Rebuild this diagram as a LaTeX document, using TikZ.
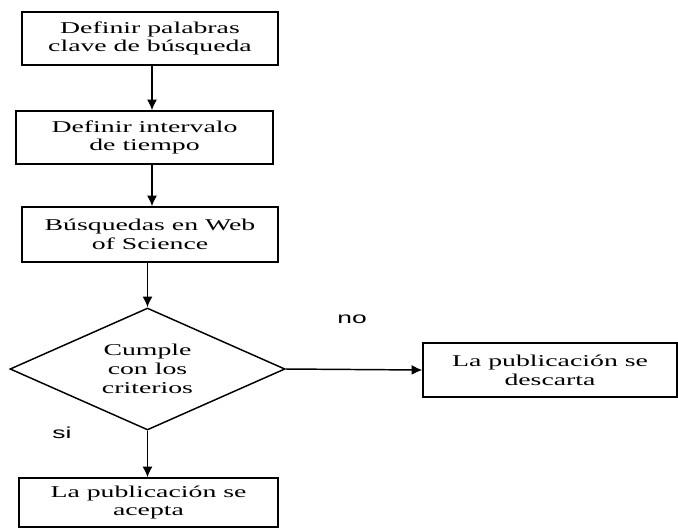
\documentclass[tikz,border=0pt]{standalone}
\usepackage{fontspec}
\setmainfont{Liberation Serif}[FakeStretch=1.68]
\newfontfamily\etiqfont{Liberation Sans}[FakeStretch=1.65]
\usetikzlibrary{shapes.geometric,arrows.meta}

\begin{document}
\begin{tikzpicture}[x=0.75pt, y=-0.75pt, >={Latex[length=8pt,width=7.5pt]}, line width=1.1pt,
        caja/.style={rectangle, black, draw, align=center, inner sep=0pt, font=\fontsize{12.4}{14}\selectfont, minimum width=192pt, minimum height=39.75pt},
        rombo/.style={diamond, black, draw, align=center, inner sep=0pt, aspect=2.25, font=\fontsize{12.4}{14.5}\selectfont, minimum width=206.25pt, minimum height=91.5pt},
        etiq/.style={black, font=\etiqfont\fontsize{12}{14}\selectfont}]
        \useasboundingbox (0,0) rectangle (678,529);

        \draw (150, 38.5) node(def)[caja]{Definir palabras\\clave de búsqueda};
        \draw (144.5, 137.5) node(inter)[caja, minimum width=192.75pt]{Definir intervalo\\de tiempo};
        \draw (150, 234.5) node(wos)[caja, minimum height=41.25pt]{Búsquedas en Web\\of Science};
        \draw (147.5, 369) node(crit)[rombo]{Cumple\\con los\\criterios};
        \draw (148.5, 502.5) node(acep)[caja, minimum width=194.25pt, minimum height=36.75pt]{La publicación se\\acepta};
        \draw (550, 370) node(desc)[caja, minimum width=190.5pt, minimum height=40.5pt]{La publicación se\\descarta};

        \draw (352, 319) node(no)[etiq]{no};
        \draw (62, 433) node(si)[etiq]{si};

        \draw[->] (def.south -| 152, 0) -- (inter.north -| 152, 0);
        \draw[->] (inter.south -| 152, 0) -- (wos.north -| 152, 0);
        \draw[->] (crit.north |- wos.south) -- (crit.north);
        \draw[->] (crit.east) -- (desc.west);
        \draw[->] (crit.south) -- (crit.south |- acep.north);
    \end{tikzpicture}
\end{document}
